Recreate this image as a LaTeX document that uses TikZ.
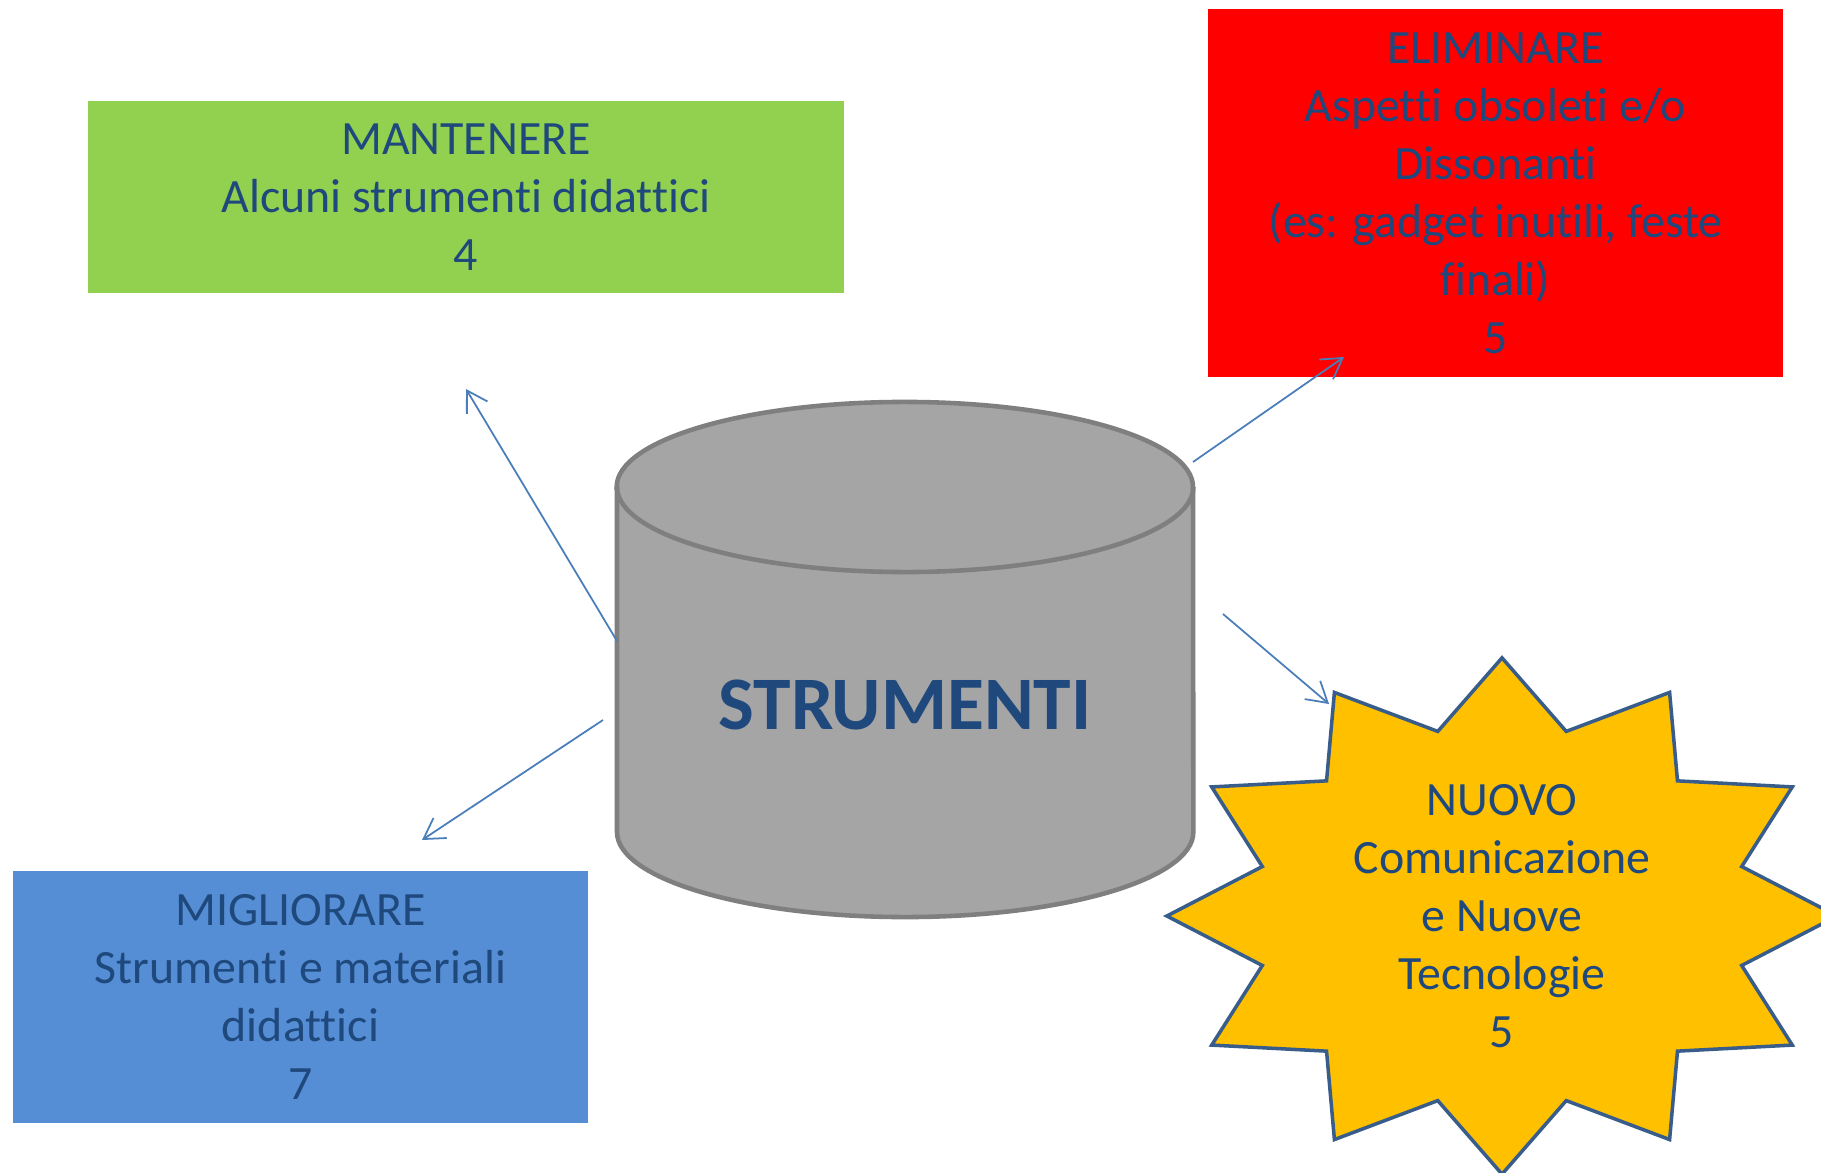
\documentclass[tikz,border=0pt]{standalone}
\usepackage{fontspec}
\setmainfont{Carlito}[Ligatures=CommonOff]
\usetikzlibrary{arrows.meta}

\definecolor{txtblue}{RGB}{31,73,125}
\definecolor{linkblue}{RGB}{74,126,187}
\definecolor{keepgreen}{RGB}{146,208,80}
\definecolor{improveblue}{RGB}{85,142,213}
\definecolor{newyellow}{RGB}{255,192,0}
\definecolor{starline}{RGB}{56,93,138}
\definecolor{cylfill}{RGB}{165,165,165}
\definecolor{cylline}{RGB}{127,127,127}

\tikzstyle{box}=[rectangle, inner sep=0.1cm, align=center,
                 text=txtblue, font=\fontsize{13.6}{16.5}\selectfont]
\tikzstyle{link}=[-{Straight Barb[length=2mm,width=2.4mm]},
                  draw=linkblue, line width=0.5pt]

\begin{document}
\begin{tikzpicture}[x=0.01cm, y=-0.01cm]

  \path[use as bounding box, fill=white] (0,0) rectangle (1821,1173);

  %%%%%%%%%%%%%%%%%%%%%%%%%%%%%%
  %%%%%%%%%%%%%%%%%%%%%%%%%%%%%%
  % centre

  % cylinder
  \draw[cylline, fill=cylfill, line width=1.3pt] (617,487) -- (617,832)
    arc[start angle=180, end angle=360, x radius=2.88cm, y radius=0.85cm]
    -- (1193,487)
    arc[start angle=0, end angle=180, x radius=2.88cm, y radius=0.85cm] -- cycle;
  \draw[cylline, line width=1.3pt] (617,487)
    arc[start angle=180, end angle=360, x radius=2.88cm, y radius=0.85cm];

  \node (strum) at (905,705) [text=txtblue, font=\fontsize{21.5}{26}\selectfont\bfseries] {STRUMENTI};

  %%%%%%%%%%%%%%%%%%%%%%%%%%%%%%
  % boxes
  \node (mant) at (466,197) [box, fill=keepgreen, minimum width=7.56cm, minimum height=1.92cm]
    {MANTENERE\\Alcuni strumenti didattici\\4};

  \node (elim) at (1495.5,193) [box, fill=red, minimum width=5.75cm, minimum height=3.68cm]
    {ELIMINARE\\Aspetti obsoleti e/o\\Dissonanti\\(es: gadget inutili, feste\\finali)\\5};

  \node (migl) at (300.5,997) [box, fill=improveblue, minimum width=5.75cm, minimum height=2.52cm]
    {MIGLIORARE\\Strumenti e materiali\\didattici\\7};

  % star
  \coordinate (nuovo_c) at (1502,916);
  \draw[starline, fill=newyellow, line width=1pt] ([shift={(90:3.35cm and 2.58cm)}]nuovo_c)
    \foreach \a [evaluate=\a as \b using \a+15, evaluate=\a as \c using \a+30] in {90,120,...,420} {
      -- ([shift={(\b:2.48cm and 1.91cm)}]nuovo_c)
      -- ([shift={(\c:3.35cm and 2.58cm)}]nuovo_c)
    } -- cycle;
  \node (nuovo) at (nuovo_c) [box] {NUOVO\\Comunicazione\\e Nuove\\Tecnologie\\5};

  %%%%%%%%%%%%%%%%%%%%%%%%%%%%%%
  % links
  \coordinate (mant_from) at (617,641);
  \coordinate (mant_to) at (466,389);
  \coordinate (elim_from) at (1193,462);
  \coordinate (elim_to) at (1344,357);
  \coordinate (migl_from) at (603,720);
  \coordinate (migl_to) at (422,840);
  \coordinate (nuovo_from) at (1223,614);
  \coordinate (nuovo_to) at (1329,704);

  \draw [link] (mant_from) to (mant_to);

  \draw [link] (elim_from) to (elim_to);

  \draw [link] (migl_from) to (migl_to);

  \draw [link] (nuovo_from) to (nuovo_to);

\end{tikzpicture}
\end{document}
